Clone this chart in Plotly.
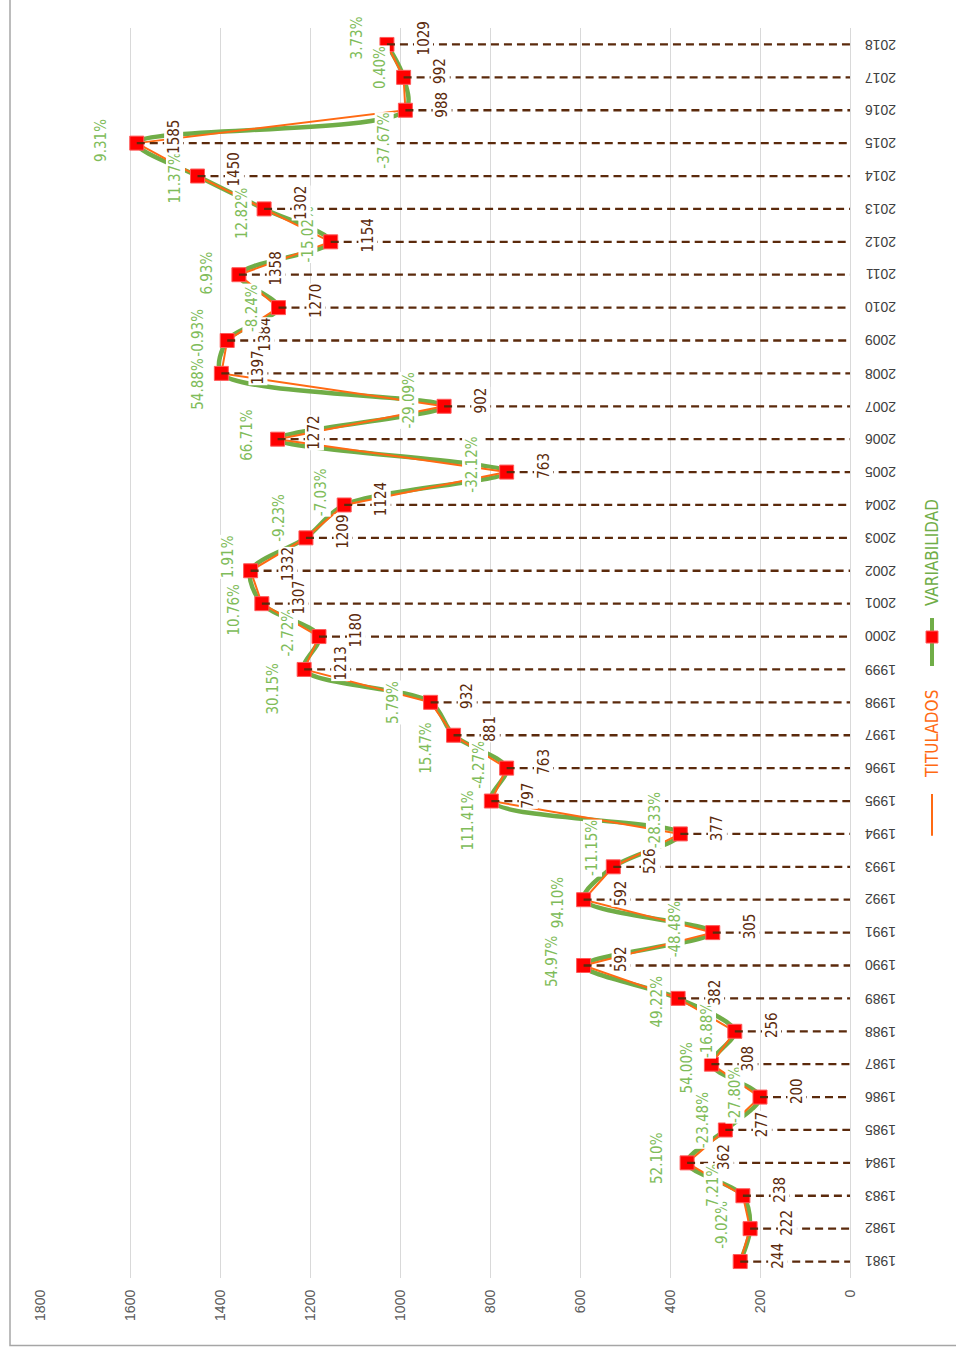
import plotly.graph_objects as go

years = list(range(1981, 2019))
titulados = [244, 222, 238, 362, 277, 200, 308, 256, 382, 592, 305, 592, 526, 377, 797,
             763, 881, 932, 1213, 1180, 1307, 1332, 1209, 1124, 763, 1272, 902, 1397, 1384,
             1270, 1358, 1154, 1302, 1450, 1585, 988, 992, 1029]
variabilidad = ["", "-9.02%", "7.21%", "52.10%", "-23.48%", "-27.80%", "54.00%", "-16.88%",
                "49.22%", "54.97%", "-48.48%", "94.10%", "-11.15%", "-28.33%", "111.41%",
                "-4.27%", "15.47%", "5.79%", "30.15%", "-2.72%", "10.76%", "1.91%", "-9.23%",
                "-7.03%", "-32.12%", "66.71%", "-29.09%", "54.88%", "-0.93%", "-8.24%", "6.93%",
                "-15.02%", "12.82%", "11.37%", "9.31%", "-37.67%", "0.40%", "3.73%"]
value_ticks = [0, 200, 400, 600, 800, 1000, 1200, 1400, 1600, 1800]

# label pixel offsets (dx right, dy down) for the percentage labels
pct_off = [(0, 0), (-28, -4), (-30, -11), (-30, -5), (-22, -10), (-25, -2), (-24, 3), (-28, -1),
           (-21, 3), (-32, -4), (-38, -3), (-26, 3), (-21, -19), (-25, -14), (-23, 19),
           (-28, -3), (-27, 13), (-37, 0), (-31, 19), (-31, -4), (-28, 6), (-23, -14), (-27, -20),
           (-23, -13), (-35, -7), (-30, -4), (-35, -6), (-23, 10), (-30, -8), (-27, 1), (-32, -2),
           (-23, -7), (-22, 4), (-22, 2), (-36, -3), (-21, 30), (-23, -10), (-30, -7)]

GREEN = "#70ad47"
GREEN_TXT = "#80bc5a"
ORANGE = "#ff6a13"
BROWN = "#5b2a0c"
NARROW = "Liberation Sans Narrow, Arial Narrow, DejaVu Sans Condensed, sans-serif"
REG = "Liberation Sans, Arial, sans-serif"

fig = go.Figure()

# smoothed green line (VARIABILIDAD)
fig.add_trace(go.Scatter(x=titulados, y=years, mode="lines",
                         line=dict(color=GREEN, width=4.5, shape="spline", smoothing=0.9),
                         showlegend=False, hoverinfo="skip"))
# orange straight line (TITULADOS)
fig.add_trace(go.Scatter(x=titulados, y=years, mode="lines",
                         line=dict(color=ORANGE, width=2),
                         showlegend=False, hoverinfo="skip"))
# red square markers
fig.add_trace(go.Scatter(x=titulados, y=years, mode="markers",
                         marker=dict(symbol="square", size=14, color="#ff0000",
                                     line=dict(color="#ff5a5a", width=1)),
                         showlegend=False, hoverinfo="skip"))
# drop lines
dx, dy = [], []
for v, yr in zip(titulados, years):
    dx += [v, 0, None]
    dy += [yr, yr, None]
fig.add_trace(go.Scatter(x=dx, y=dy, mode="lines",
                         line=dict(color=BROWN, width=2.3, dash="8px,5px"),
                         showlegend=False, hoverinfo="skip"))

# plot area pixels: x 40..850, y 27.5..1278.5
def px(x):
    return (x - 40) / 810.0

def py(y):
    return (1278.5 - y) / 1251.0

annotations = []
for i, (v, yr) in enumerate(zip(titulados, years)):
    annotations.append(dict(x=v, y=yr, xref="x", yref="y", text=str(v), showarrow=False,
                            textangle=-90, xshift=37, yshift=6, bgcolor="white",
                            borderpad=0, xanchor="center", yanchor="middle",
                            font=dict(family=NARROW, size=15, color=BROWN)))
    if variabilidad[i]:
        ox, oy = pct_off[i]
        annotations.append(dict(x=v, y=yr, xref="x", yref="y", text=variabilidad[i],
                                showarrow=False, textangle=-90, xshift=ox, yshift=-oy,
                                bgcolor="white", borderpad=0, xanchor="center", yanchor="middle",
                                font=dict(family=NARROW, size=15, color=GREEN_TXT)))
    # year category labels (upside down)
    annotations.append(dict(x=px(881), y=yr, xref="paper", yref="y", text=str(yr),
                            showarrow=False, textangle=180, xanchor="center", yanchor="middle",
                            font=dict(family=REG, size=14, color="#404040")))

shapes = [
    # outer chart border
    dict(type="rect", xref="paper", yref="paper", x0=px(10), x1=px(962), y0=py(1346), y1=py(-5),
         line=dict(color="#a6a6a6", width=1.5), fillcolor="rgba(0,0,0,0)", layer="below"),
    # legend: VARIABILIDAD
    dict(type="line", xref="paper", yref="paper", x0=px(932), x1=px(932), y0=py(666), y1=py(618),
         line=dict(color=GREEN, width=4)),
    dict(type="rect", xref="paper", yref="paper", x0=px(926), x1=px(938), y0=py(643), y1=py(631),
         line=dict(color="#ff5a5a", width=1), fillcolor="#ff0000"),
    # legend: TITULADOS
    dict(type="line", xref="paper", yref="paper", x0=px(932), x1=px(932), y0=py(836), y1=py(794),
         line=dict(color=ORANGE, width=2)),
]
annotations += [
    dict(x=px(932), y=py(553), xref="paper", yref="paper", text="VARIABILIDAD", showarrow=False,
         textangle=-90, xanchor="center", yanchor="middle",
         font=dict(family=NARROW, size=17, color=GREEN)),
    dict(x=px(932), y=py(734), xref="paper", yref="paper", text="TITULADOS", showarrow=False,
         textangle=-90, xanchor="center", yanchor="middle",
         font=dict(family=NARROW, size=17, color=ORANGE)),
]

fig.update_layout(
    width=956, height=1352,
    margin=dict(l=40, r=106, t=27.5, b=73.5, autoexpand=False),
    paper_bgcolor="white", plot_bgcolor="white",
    showlegend=False,
    shapes=shapes,
    annotations=annotations,
    xaxis=dict(range=[1800, 0], tickvals=value_ticks, ticktext=[str(t) for t in value_ticks],
               tickangle=-90, showgrid=True, gridcolor="#d9d9d9", gridwidth=1,
               zeroline=False, showline=False, ticks="", ticklabelstandoff=8, automargin=False,
               tickfont=dict(family=REG, size=14, color="#595959")),
    yaxis=dict(range=[1980.5, 2018.5], tickvals=years, showticklabels=False,
               side="right", showgrid=False, zeroline=False, automargin=False,
               showline=True, linecolor="#d9d9d9", linewidth=1, ticks=""),
)

fig.write_html("out.html", config={"displayModeBar": False},
               post_script="document.body.style.margin='0';document.body.style.overflow='hidden';")
